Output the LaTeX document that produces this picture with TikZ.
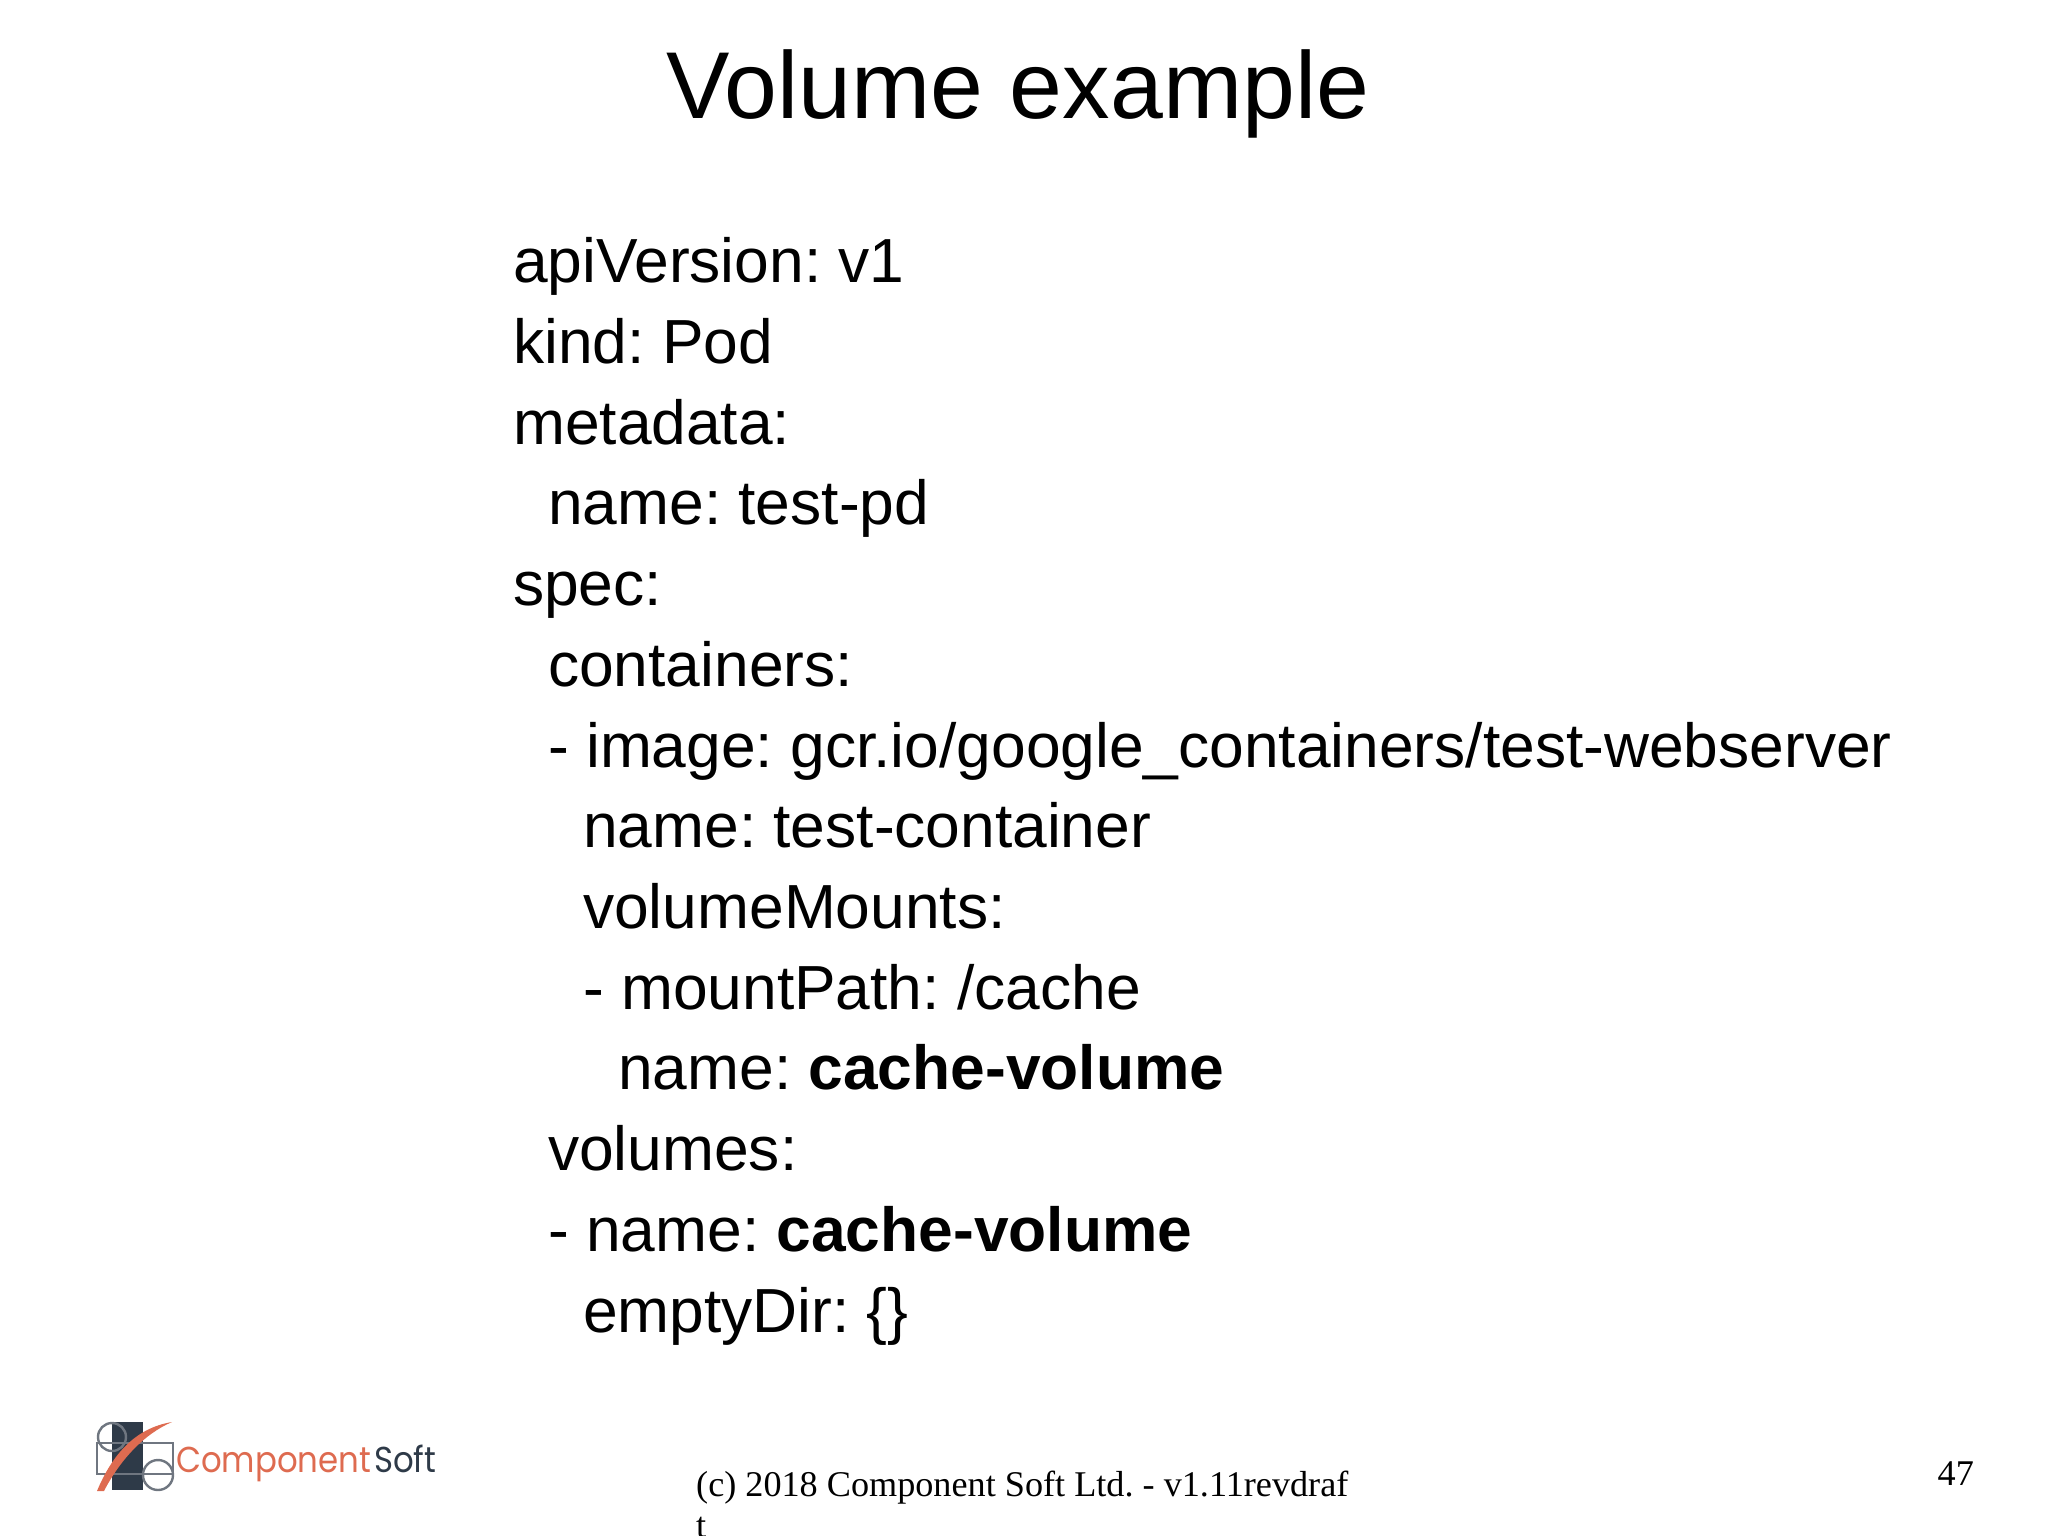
\documentclass[tikz,border=0pt]{standalone}
\usepackage{fontspec}
\setmainfont{Liberation Sans}
\newfontfamily\timesf{Liberation Serif}
\newfontfamily\logof[FakeStretch=0.9]{Poppins}
\frenchspacing
\definecolor{logoorange}{HTML}{DE6B50}
\definecolor{logodark}{HTML}{2E3A48}
\definecolor{logogray}{HTML}{6F7680}
\tikzset{
 body/.style={anchor=base west,inner sep=0pt,font=\fontsize{62.3}{62.3}\selectfont,text=black},
 foot/.style={anchor=base west,inner sep=0pt,font=\timesf\fontsize{36.2}{36.2}\selectfont,text=black},
 logotext/.style={anchor=base west,inner sep=0pt,font=\logof\fontsize{36}{36}\selectfont},
 logoline/.style={logogray,line width=2.4pt},
}
\begin{document}
\begin{tikzpicture}[x=1pt,y=-1pt]
\useasboundingbox (0,0) rectangle (2048,1535);
\node[anchor=base,inner sep=0pt,font=\fontsize{95}{95}\selectfont] (title) at (1018,118) {Volume example};
\node[body] (l1) at (513,282.5) {apiVersion: v1};
\node[body] (l2) at (513,363.3) {kind: Pod};
\node[body] (l3) at (513,444.1) {metadata:};
\node[body] (l4) at (548,524.9) {name: test-pd};
\node[body] (l5) at (513,605.7) {spec:};
\node[body] (l6) at (548,686.4) {containers:};
\node[body] (l7) at (548,767.1) {- image: gcr.io/google\_containers/test-webserver};
\node[body] (l8) at (583,847.8) {name: test-container};
\node[body] (l9) at (583,928.5) {volumeMounts:};
\node[body] (l10) at (583,1009.2) {- mountPath: /cache};
\node[body] (l11) at (618,1089.9) {name: \textbf{cache-volume}};
\node[body] (l12) at (548,1170.6) {volumes:};
\node[body] (l13) at (548,1251.3) {- name: \textbf{cache-volume}};
\node[body] (l14) at (583,1332) {emptyDir: \{\}};
\node[foot] (f1) at (696,1496) {(c) 2018 Component Soft Ltd. - v1.11revdraf};
\node[foot] (f2) at (696,1537) {t};
\node[foot] (num) at (1937.5,1485) {47};
% logo
\fill[logodark] (112,1422) rectangle (143,1490);
\draw[logoline] (97,1443) rectangle (173,1474);
\draw[logoline] (112,1437) circle (14);
\draw[logoline] (158,1475) circle (15);
\fill[logoorange] (97,1491) .. controls (112,1455) and (135,1428) .. (172,1422) .. controls (144,1434) and (120,1460) .. (104,1491) -- cycle;
\node[logotext,text=logoorange] (lc) at (176,1472) {Component};
\node[logotext,text=logodark] (ls) at (374,1472) {Soft};
\end{tikzpicture}
\end{document}
